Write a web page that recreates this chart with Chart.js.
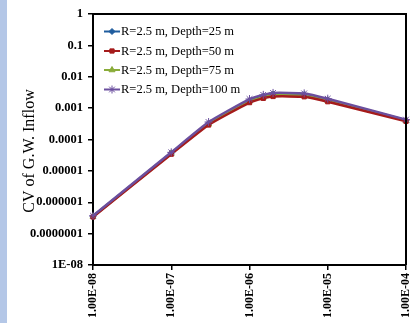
<!DOCTYPE html>
<html>
<head>
<meta charset="utf-8">
<script src="https://cdn.jsdelivr.net/npm/chart.js@4/dist/chart.umd.min.js"></script>
<style>
  html, body { margin: 0; padding: 0; background: #ffffff; }
  canvas { display: block; }
</style>
</head>
<body>
<canvas id="cv" width="411" height="323"></canvas>
<script>
// Hydraulic conductivity (x) and coefficient of variation of groundwater inflow (y)
const conductivity = [1e-8, 1e-7, 3e-7, 1e-6, 1.5e-6, 2e-6, 5e-6, 1e-5, 1e-4];
const depth25  = [3.6e-7, 3.7e-5, 3.3e-4, 1.75e-3, 2.4e-3, 2.8e-3, 2.7e-3, 1.85e-3, 4.1e-4];
const depth50  = [3.4e-7, 3.4e-5, 2.9e-4, 1.5e-3, 2.05e-3, 2.35e-3, 2.3e-3, 1.6e-3, 3.8e-4];
const depth75  = [3.5e-7, 3.6e-5, 3.1e-4, 1.65e-3, 2.2e-3, 2.6e-3, 2.5e-3, 1.75e-3, 4.0e-4];
const depth100 = [3.7e-7, 3.9e-5, 3.6e-4, 1.95e-3, 2.65e-3, 3.05e-3, 2.95e-3, 2.0e-3, 4.3e-4];
const seriesLabels = ['R=2.5 m, Depth=25 m', 'R=2.5 m, Depth=50 m', 'R=2.5 m, Depth=75 m', 'R=2.5 m, Depth=100 m'];

const xTickValues = [1e-8, 1e-7, 1e-6, 1e-5, 1e-4];
const xTickLabels = ['1.00E-08', '1.00E-07', '1.00E-06', '1.00E-05', '1.00E-04'];
const yTickValues = [1e-8, 1e-7, 1e-6, 1e-5, 1e-4, 1e-3, 1e-2, 1e-1, 1];
const yTickLabels = ['1E-08', '0.0000001', '0.000001', '0.00001', '0.0001', '0.001', '0.01', '0.1', '1'];
const yTitle = 'CV of G.W. Inflow';

const SERIF = '"Liberation Serif", "Times New Roman", serif';

function points(values) {
  return conductivity.map((x, i) => ({ x: x, y: values[i] }));
}

const styles = [
  { color: '#1f5c9e', style: 'rectRot', radius: 3, order: 3 },
  { color: '#a51b1b', style: 'rect', radius: 3, order: 1 },
  { color: '#8aac3a', style: 'triangle', radius: 3.5, order: 2 },
  { color: '#6b4f9e', style: 'star', radius: 4, order: 0 }
];
const allSeries = [depth25, depth50, depth75, depth100];

const datasets = allSeries.map((vals, i) => ({
  label: seriesLabels[i],
  data: points(vals),
  order: styles[i].order,
  borderColor: styles[i].color,
  backgroundColor: styles[i].color,
  borderWidth: 2.5,
  pointStyle: styles[i].style,
  pointRadius: styles[i].radius,
  pointBorderWidth: 1,
  pointBorderColor: styles[i].color,
  pointBackgroundColor: styles[i].color,
  tension: 0.15,
  clip: false
}));

// Page backdrop, frame, legend and vertical axis title
const decorations = {
  id: 'decorations',
  beforeDraw(chart) {
    const ctx = chart.ctx;
    ctx.save();
    ctx.fillStyle = '#ffffff';
    ctx.fillRect(0, 0, chart.width, chart.height);
    ctx.fillStyle = '#b4c7e7';
    ctx.fillRect(0, 0, 7, chart.height);
    ctx.restore();
  },
  afterDraw(chart) {
    const ctx = chart.ctx;
    const a = chart.chartArea;
    ctx.save();
    ctx.strokeStyle = '#000000';
    ctx.lineWidth = 2;
    ctx.beginPath();
    ctx.moveTo(a.left, a.top);
    ctx.lineTo(a.right, a.top);
    ctx.lineTo(a.right, a.bottom);
    ctx.stroke();

    // legend
    ctx.font = '12.5px ' + SERIF;
    ctx.textBaseline = 'middle';
    ctx.textAlign = 'left';
    const rows = [31.5, 51, 70, 89.5];
    chart.data.datasets.forEach((ds, i) => {
      const y = rows[i];
      ctx.strokeStyle = ds.borderColor;
      ctx.lineWidth = 2;
      ctx.beginPath();
      ctx.moveTo(104, y);
      ctx.lineTo(120, y);
      ctx.stroke();
      ctx.fillStyle = ds.borderColor;
      ctx.strokeStyle = ds.borderColor;
      ctx.lineWidth = 1;
      Chart.helpers.drawPoint(ctx, { pointStyle: ds.pointStyle, radius: ds.pointRadius, rotation: 0, borderWidth: 1 }, 112, y);
      ctx.fillStyle = '#000000';
      ctx.fillText(ds.label, 121, y + 0.5);
    });

    // y axis title
    ctx.translate(30, 151);
    ctx.rotate(-Math.PI / 2);
    ctx.textAlign = 'center';
    ctx.textBaseline = 'middle';
    ctx.font = '16px ' + SERIF;
    ctx.fillStyle = '#000000';
    ctx.fillText(yTitle, 0, 0);
    ctx.restore();
  }
};

new Chart(document.getElementById('cv'), {
  type: 'line',
  data: { datasets: datasets },
  options: {
    responsive: false,
    animation: false,
    devicePixelRatio: 1,
    layout: { padding: { top: 14, right: 4, bottom: 0, left: 0 } },
    plugins: { legend: { display: false }, tooltip: { enabled: false } },
    scales: {
      x: {
        type: 'logarithmic',
        min: 1e-8,
        max: 1e-4,
        afterBuildTicks(scale) { scale.ticks = xTickValues.map(v => ({ value: v })); },
        afterFit(scale) { scale.height = 58; scale.paddingLeft = 0; scale.paddingRight = 0; },
        ticks: {
          autoSkip: false,
          minRotation: 90,
          maxRotation: 90,
          padding: 3,
          color: '#000000',
          font: { family: SERIF, size: 12, weight: 'bold' },
          callback(value) {
            const i = xTickValues.findIndex(v => Math.abs(Math.log10(v) - Math.log10(value)) < 1e-6);
            return i >= 0 ? xTickLabels[i] : '';
          }
        },
        grid: { display: true, drawOnChartArea: false, drawTicks: true, tickLength: 5, color: '#000000', lineWidth: 1.5 },
        border: { display: true, color: '#000000', width: 2 }
      },
      y: {
        type: 'logarithmic',
        min: 1e-8,
        max: 1,
        afterBuildTicks(scale) { scale.ticks = yTickValues.map(v => ({ value: v })); },
        afterFit(scale) { scale.width = 93; scale.paddingTop = 0; scale.paddingBottom = 0; },
        ticks: {
          autoSkip: false,
          padding: 5,
          color: '#000000',
          font: { family: SERIF, size: 12.5, weight: 'bold' },
          callback(value) {
            const i = yTickValues.findIndex(v => Math.abs(Math.log10(v) - Math.log10(value)) < 1e-6);
            return i >= 0 ? yTickLabels[i] : '';
          }
        },
        grid: { display: true, drawOnChartArea: false, drawTicks: true, tickLength: 5, color: '#000000', lineWidth: 1.5 },
        border: { display: true, color: '#000000', width: 2 }
      }
    }
  },
  plugins: [decorations]
});
</script>
</body>
</html>
